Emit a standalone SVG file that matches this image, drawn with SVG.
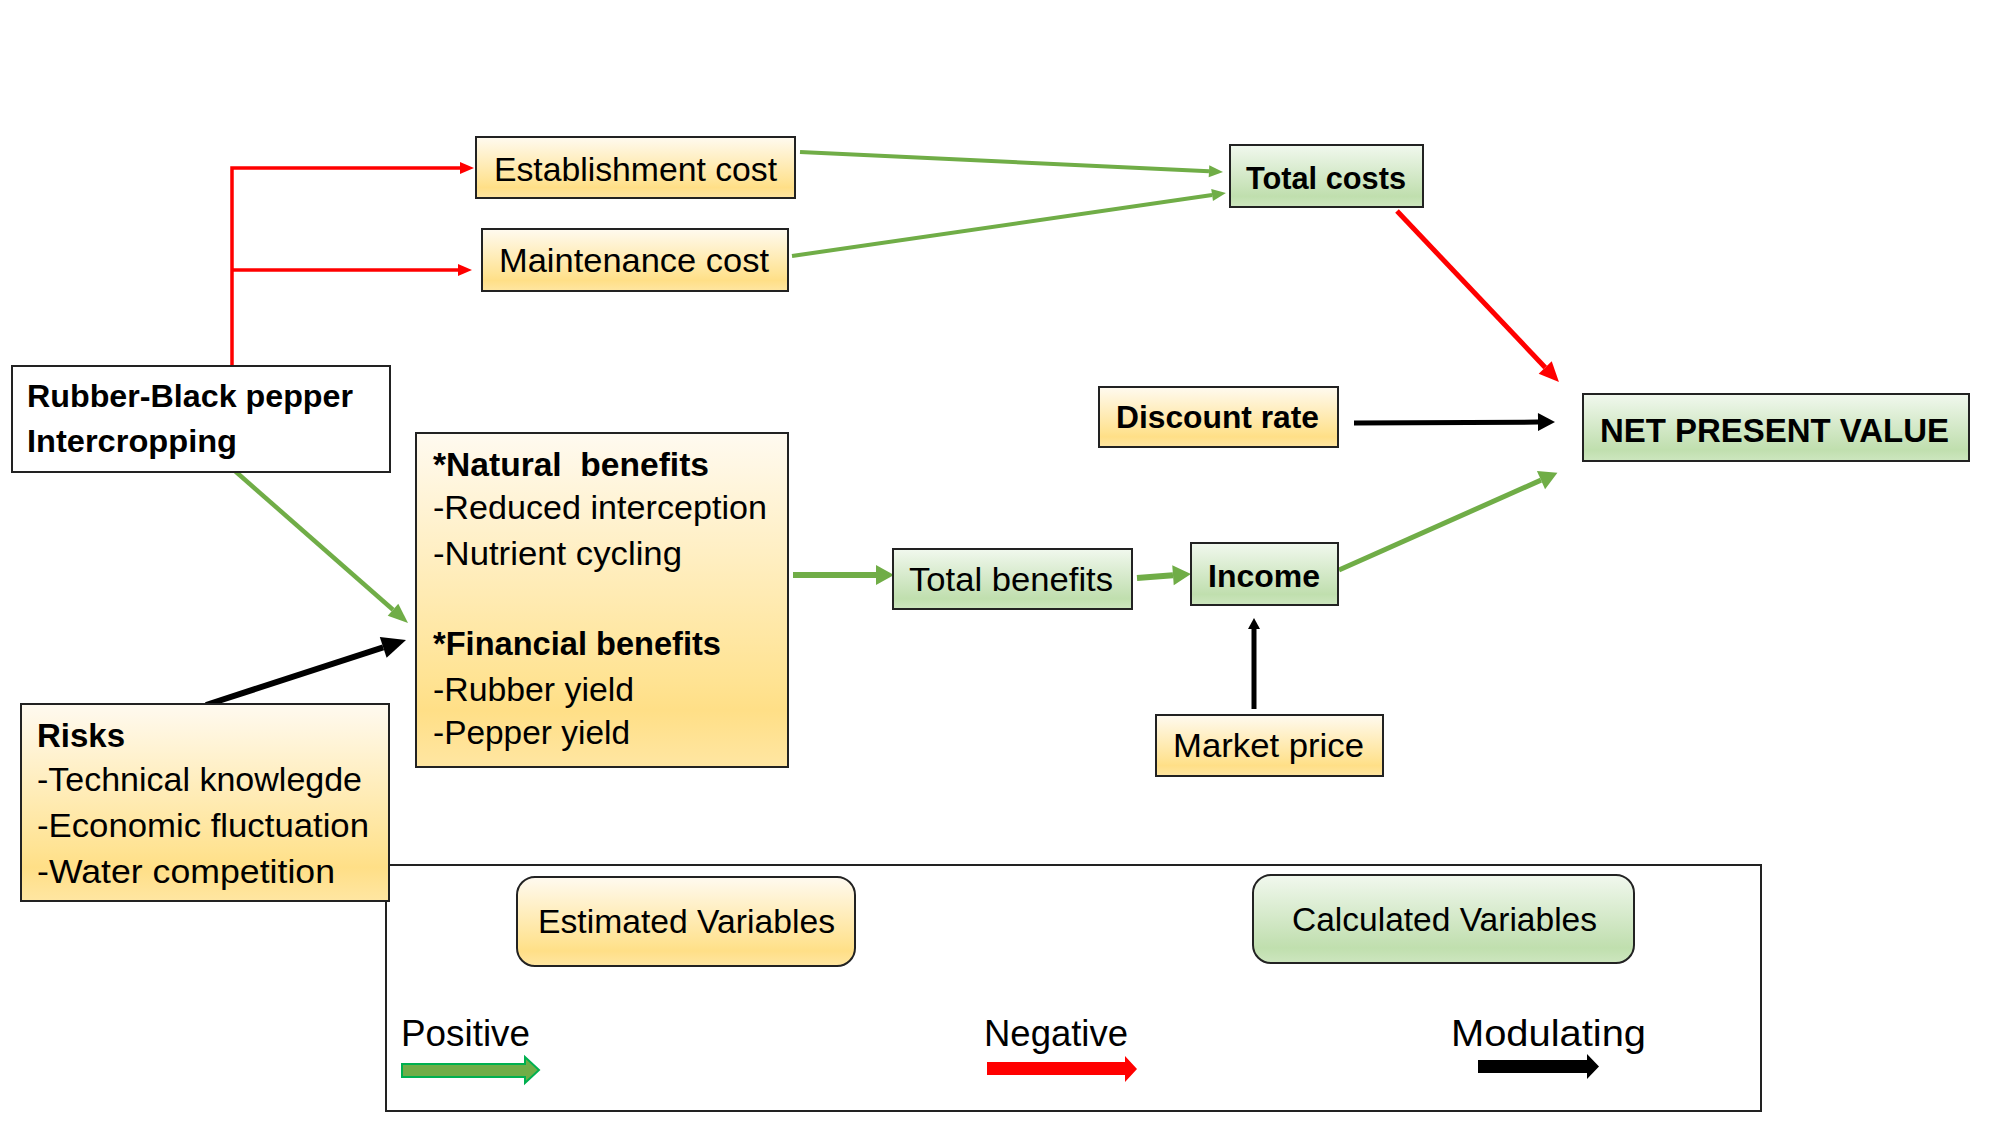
<svg xmlns="http://www.w3.org/2000/svg" width="2000" height="1125" viewBox="0 0 2000 1125">
  <style>
    text { font-family: "Liberation Sans", Arial, sans-serif; fill: #000; white-space: pre; }
    .r { font-size: 33.5px; }
    .b { font-size: 31.5px; font-weight: bold; }
    .lg { font-size: 36px; }
    .box { stroke: #222; stroke-width: 2; }
    .yel { fill: url(#gy); }
    .grn { fill: url(#gg); }
    .wht { fill: #fff; }
    .cg { fill: none; stroke: #70ad47; }
    .cr { fill: none; stroke: #ff0000; }
    .ck { fill: none; stroke: #000; }
  </style>
  <defs>
    <linearGradient id="gy" x1="0" y1="0" x2="0" y2="1">
      <stop offset="0" stop-color="#fffaf0"/>
      <stop offset="0.74" stop-color="#ffe393"/>
      <stop offset="0.83" stop-color="#ffdf87"/>
      <stop offset="1" stop-color="#ffe6a2"/>
    </linearGradient>
    <linearGradient id="gg" x1="0" y1="0" x2="0" y2="1">
      <stop offset="0" stop-color="#f1f8ee"/>
      <stop offset="0.74" stop-color="#c5e1b5"/>
      <stop offset="0.83" stop-color="#c0dfae"/>
      <stop offset="1" stop-color="#cde6bf"/>
    </linearGradient>
    <marker id="mgS" markerUnits="userSpaceOnUse" markerWidth="16" markerHeight="14" refX="0" refY="7" orient="auto" overflow="visible">
      <path d="M0,1 L14,7 L0,13 z" fill="#70ad47"/>
    </marker>
    <marker id="mgM" markerUnits="userSpaceOnUse" markerWidth="22" markerHeight="18" refX="0" refY="8" orient="auto" overflow="visible">
      <path d="M0,0 L20,8 L0,16 z" fill="#70ad47"/>
    </marker>
    <marker id="mgL" markerUnits="userSpaceOnUse" markerWidth="20" markerHeight="22" refX="0" refY="10" orient="auto" overflow="visible">
      <path d="M0,0 L18,10 L0,20 z" fill="#70ad47"/>
    </marker>
    <marker id="mrS" markerUnits="userSpaceOnUse" markerWidth="16" markerHeight="14" refX="0" refY="6" orient="auto" overflow="visible">
      <path d="M0,0 L14,6 L0,12 z" fill="#ff0000"/>
    </marker>
    <marker id="mrL" markerUnits="userSpaceOnUse" markerWidth="22" markerHeight="20" refX="0" refY="9" orient="auto" overflow="visible">
      <path d="M0,0 L20,9 L0,18 z" fill="#ff0000"/>
    </marker>
    <marker id="mkL" markerUnits="userSpaceOnUse" markerWidth="26" markerHeight="24" refX="0" refY="11" orient="auto" overflow="visible">
      <path d="M0,0 L24,11 L0,22 z" fill="#000"/>
    </marker>
    <marker id="mkM" markerUnits="userSpaceOnUse" markerWidth="20" markerHeight="20" refX="0" refY="9" orient="auto" overflow="visible">
      <path d="M0,0 L17,9 L0,18 z" fill="#000"/>
    </marker>
    <marker id="mkS" markerUnits="userSpaceOnUse" markerWidth="12" markerHeight="14" refX="0" refY="6" orient="auto" overflow="visible">
      <path d="M0,0 L11,6 L0,12 z" fill="#000"/>
    </marker>
  </defs>

  <rect width="2000" height="1125" fill="#fff"/>

  <g id="legend">
    <rect x="386" y="865" width="1375" height="246" fill="#fff" stroke="#222" stroke-width="2"/>
    <g id="legend-estimated">
      <rect class="box yel" x="517" y="877" width="338" height="89" rx="18"/>
      <text class="r" x="538" y="933" textLength="297" lengthAdjust="spacingAndGlyphs">Estimated Variables</text>
    </g>
    <g id="legend-calculated">
      <rect class="box grn" x="1253" y="875" width="381" height="88" rx="18"/>
      <text class="r" x="1292" y="931" textLength="305" lengthAdjust="spacingAndGlyphs">Calculated Variables</text>
    </g>
    <g id="legend-positive">
      <text class="lg" x="401" y="1046" textLength="129" lengthAdjust="spacingAndGlyphs">Positive</text>
      <path d="M402,1064 H525 V1057 L539,1070 L525,1083 V1077 H402 z" fill="#70ad47" stroke="#00b050" stroke-width="2"/>
    </g>
    <g id="legend-negative">
      <text class="lg" x="984" y="1046" textLength="144" lengthAdjust="spacingAndGlyphs">Negative</text>
      <path d="M987,1062 H1125 V1056 L1137,1069 L1125,1082 V1075 H987 z" fill="#ff0000"/>
    </g>
    <g id="legend-modulating">
      <text class="lg" x="1451" y="1046" textLength="195" lengthAdjust="spacingAndGlyphs">Modulating</text>
      <path d="M1478,1060 H1587 V1054 L1599,1066.5 L1587,1079 V1073 H1478 z" fill="#000"/>
    </g>
  </g>

  <g id="connectors">
    <path class="cr" stroke-width="3.5" d="M232,366 V168 H460" marker-end="url(#mrS)"/>
    <path class="cr" stroke-width="3.5" d="M232,270 H458" marker-end="url(#mrS)"/>
    <path class="cg" stroke-width="4" d="M800,152 L1209,171.3" marker-end="url(#mgS)"/>
    <path class="cg" stroke-width="4" d="M792,256 L1212.1,195" marker-end="url(#mgS)"/>
    <path class="cg" stroke-width="4.5" d="M235,471 L393,609.8" marker-end="url(#mgM)"/>
    <path class="ck" stroke-width="6" d="M206,705 L383.2,647.4" marker-end="url(#mkL)"/>
    <path class="cg" stroke-width="6" d="M793,575 L876,575" marker-end="url(#mgL)"/>
    <path class="cg" stroke-width="6" d="M1137,578 L1173,575.3" marker-end="url(#mgL)"/>
    <path class="cg" stroke-width="5" d="M1339,570 L1541,480.1" marker-end="url(#mgL)"/>
    <path class="cr" stroke-width="5" d="M1397,211 L1545.2,367.5" marker-end="url(#mrL)"/>
    <path class="ck" stroke-width="5" d="M1354,423 L1538,422.1" marker-end="url(#mkM)"/>
    <path class="ck" stroke-width="5" d="M1254,709 L1254,629" marker-end="url(#mkS)"/>
  </g>

  <g id="establishment-cost">
    <rect class="box yel" x="476" y="137" width="319" height="61"/>
    <text class="r" x="494" y="181" textLength="283" lengthAdjust="spacingAndGlyphs">Establishment cost</text>
  </g>
  <g id="maintenance-cost">
    <rect class="box yel" x="482" y="229" width="306" height="62"/>
    <text class="r" x="499" y="272" textLength="270" lengthAdjust="spacingAndGlyphs">Maintenance cost</text>
  </g>
  <g id="total-costs">
    <rect class="box grn" x="1230" y="145" width="193" height="62"/>
    <text class="b" x="1246" y="189" textLength="160" lengthAdjust="spacingAndGlyphs">Total costs</text>
  </g>
  <g id="rubber-black-pepper">
    <rect class="box wht" x="12" y="366" width="378" height="106"/>
    <text class="b" x="27" y="407" textLength="326" lengthAdjust="spacingAndGlyphs">Rubber-Black pepper</text>
    <text class="b" x="27" y="452" textLength="210" lengthAdjust="spacingAndGlyphs">Intercropping</text>
  </g>
  <g id="benefits">
    <rect class="box yel" x="416" y="433" width="372" height="334"/>
    <text class="b" x="433" y="476" style="font-size:33px" textLength="276" lengthAdjust="spacingAndGlyphs">*Natural  benefits</text>
    <text class="r" x="433" y="519" textLength="334" lengthAdjust="spacingAndGlyphs">-Reduced interception</text>
    <text class="r" x="433" y="565" textLength="249" lengthAdjust="spacingAndGlyphs">-Nutrient cycling</text>
    <text class="b" x="433" y="655" style="font-size:33px" textLength="288" lengthAdjust="spacingAndGlyphs">*Financial benefits</text>
    <text class="r" x="433" y="701" textLength="201" lengthAdjust="spacingAndGlyphs">-Rubber yield</text>
    <text class="r" x="433" y="744" textLength="197" lengthAdjust="spacingAndGlyphs">-Pepper yield</text>
  </g>
  <g id="risks">
    <rect class="box yel" x="21" y="704" width="368" height="197"/>
    <text class="b" x="37" y="747" style="font-size:33px">Risks</text>
    <text class="r" x="37" y="791" textLength="325" lengthAdjust="spacingAndGlyphs">-Technical knowlegde</text>
    <text class="r" x="37" y="837" textLength="332" lengthAdjust="spacingAndGlyphs">-Economic fluctuation</text>
    <text class="r" x="37" y="883" textLength="298" lengthAdjust="spacingAndGlyphs">-Water competition</text>
  </g>
  <g id="total-benefits">
    <rect class="box grn" x="893" y="549" width="239" height="60"/>
    <text class="r" x="909" y="591" textLength="204" lengthAdjust="spacingAndGlyphs">Total benefits</text>
  </g>
  <g id="income">
    <rect class="box grn" x="1191" y="543" width="147" height="62"/>
    <text class="b" x="1208" y="587" textLength="112" lengthAdjust="spacingAndGlyphs">Income</text>
  </g>
  <g id="market-price">
    <rect class="box yel" x="1156" y="715" width="227" height="61"/>
    <text class="r" x="1173" y="757" textLength="191" lengthAdjust="spacingAndGlyphs">Market price</text>
  </g>
  <g id="discount-rate">
    <rect class="box yel" x="1099" y="387" width="239" height="60"/>
    <text class="b" x="1116" y="428" textLength="203" lengthAdjust="spacingAndGlyphs">Discount rate</text>
  </g>
  <g id="npv">
    <rect class="box grn" x="1583" y="394" width="386" height="67"/>
    <text class="b" x="1600" y="442" style="font-size:32.5px" textLength="349" lengthAdjust="spacingAndGlyphs">NET PRESENT VALUE</text>
  </g>
</svg>
